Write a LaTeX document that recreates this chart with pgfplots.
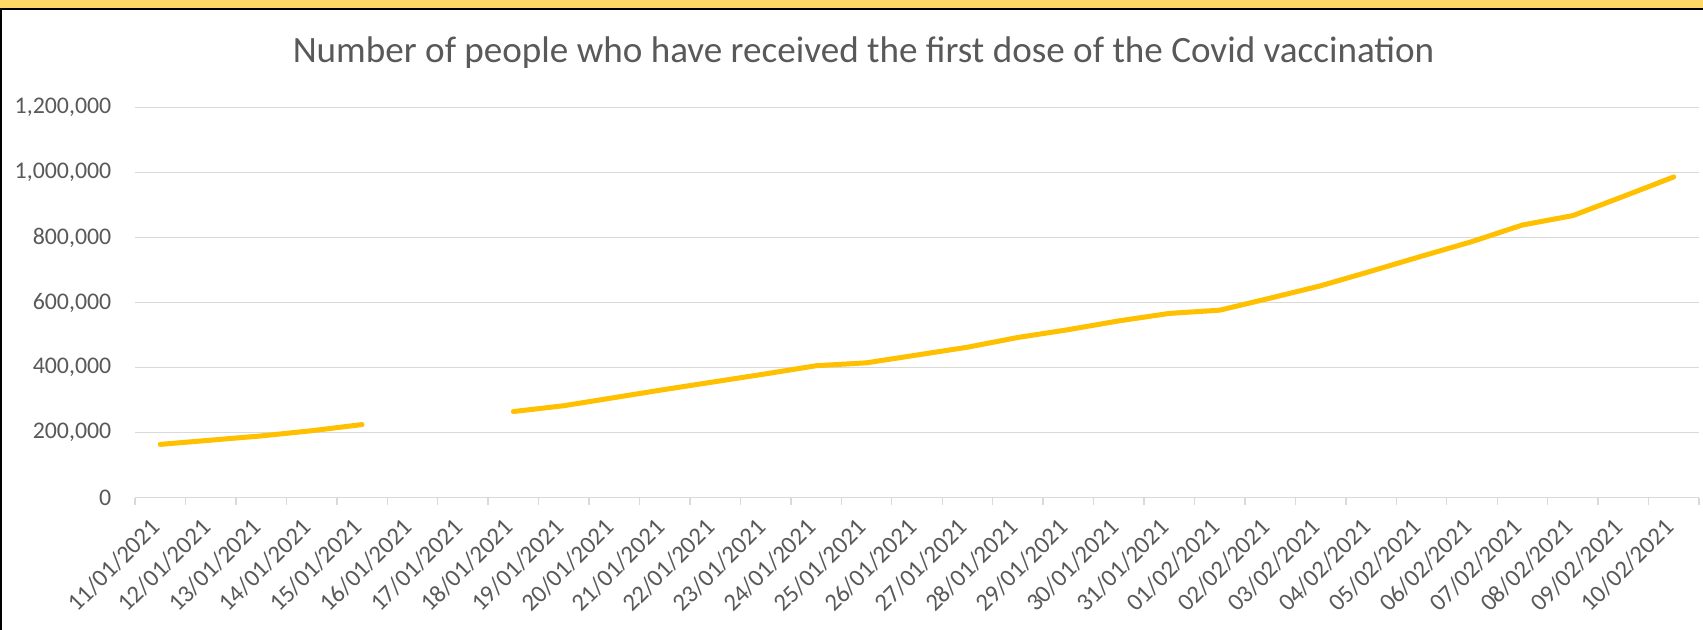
\documentclass[border=0pt]{standalone}
\usepackage{fontspec}
\setmainfont{Carlito}
\usepackage{pgfplots}
\pgfplotsset{compat=1.18}

\definecolor{txtgray}{HTML}{595959}
\definecolor{gridgray}{HTML}{D9D9D9}
\definecolor{vacgold}{HTML}{FFC000}
\definecolor{bandyellow}{HTML}{FFD966}

\begin{document}
\begin{tikzpicture}
  \useasboundingbox (0,0) rectangle (170.3mm,63mm);
  \fill[white] (0,0) rectangle (170.3mm,63mm);
  % frame of the screenshot: yellow band on top, dark edge
  \fill[bandyellow] (0,62.1mm) rectangle (170.3mm,63mm);
  \draw[black, line width=0.17mm] (0,62.1mm) -- (170.3mm,62.1mm);
  \draw[black, line width=0.2mm] (0.1mm,0) -- (0.1mm,62.1mm);

  \begin{axis}[
    at={(13.5mm,13.23mm)}, anchor=south west,
    scale only axis,
    width=156.4mm, height=39mm,
    xmin=-0.5, xmax=30.5,
    ymin=0, ymax=1200000,
    axis line style={draw=none},
    title={Number of people who have received the first dose of the Covid vaccination},
    every axis title shift=0pt,
    title style={at={(axis description cs:0.4658,1.117)}, anchor=base,
      font=\fontsize{10.56}{12}\selectfont, text=txtgray, inner sep=0pt},
    ytick={0,200000,400000,600000,800000,1000000,1200000},
    scaled y ticks=false,
    ymajorgrids,
    grid style={draw=gridgray, line width=0.4pt},
    tick style={draw=gridgray, line width=0.4pt},
    major tick length=0pt,
    tick align=outside,
    xtick pos=bottom,
    ytick pos=left,
    xtick={0,...,30},
    xticklabels={11/01/2021,12/01/2021,13/01/2021,14/01/2021,15/01/2021,
      16/01/2021,17/01/2021,18/01/2021,19/01/2021,20/01/2021,21/01/2021,
      22/01/2021,23/01/2021,24/01/2021,25/01/2021,26/01/2021,27/01/2021,
      28/01/2021,29/01/2021,30/01/2021,31/01/2021,01/02/2021,02/02/2021,
      03/02/2021,04/02/2021,05/02/2021,06/02/2021,07/02/2021,08/02/2021,
      09/02/2021,10/02/2021},
    extra x ticks={-0.5,0.5,...,30.5},
    extra x tick labels={},
    extra x tick style={major tick length=0.7mm},
    xticklabel style={font=\fontsize{7}{8}\selectfont, text=txtgray,
      inner sep=0pt, xshift=-0.4mm, yshift=-2.5mm, rotate=45, anchor=east},
    yticklabel style={font=\fontsize{6.79}{8}\selectfont, text=txtgray,
      inner sep=0pt, xshift=-2.3mm, anchor=east,
      /pgf/number format/.cd, fixed, precision=0, 1000 sep={,},
      assume math mode=true},
    unbounded coords=jump,
  ]
    \addplot[color=vacgold, line width=0.5mm, line join=round, line cap=round, mark=none]
    coordinates {
      (0,164000) (1,177000) (2,190000) (3,206000) (4,225000)
      (5,nan) (6,nan)
      (7,265000) (8,283000) (9,308000) (10,333000) (11,357000)
      (12,381000) (13,406000) (14,415000) (15,439000) (16,463000)
      (17,493000) (18,517000) (19,544000) (20,567000) (21,577000)
      (22,614000) (23,652000) (24,697000) (25,743000) (26,788000)
      (27,839000) (28,868000) (29,927000) (30,987000)
    };
  \end{axis}
\end{tikzpicture}
\end{document}
